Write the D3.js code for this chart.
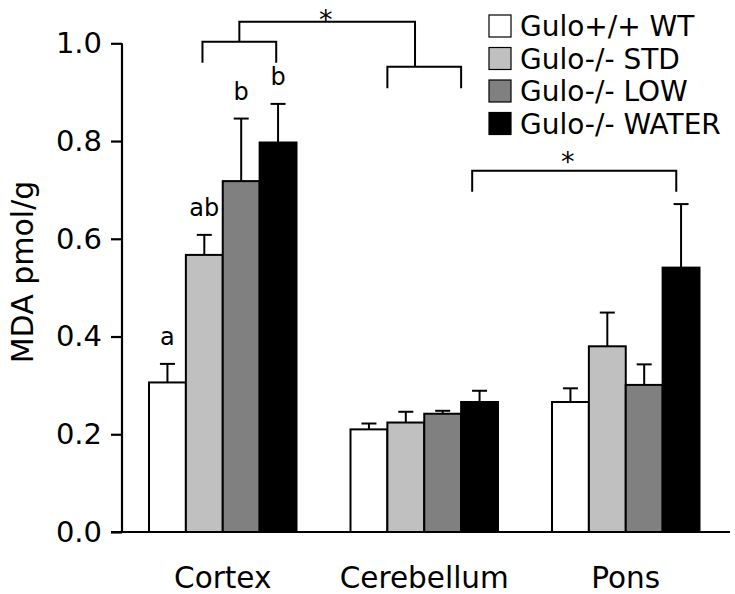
<!DOCTYPE html>
<html>
<head>
<meta charset="utf-8">
<script src="https://cdn.jsdelivr.net/npm/d3@7"></script>
<style>
  html, body { margin: 0; padding: 0; background: #fff; }
  svg { display: block; font-family: "DejaVu Sans", Verdana, sans-serif; }
</style>
</head>
<body>
<svg id="chart" width="735" height="594"></svg>
<script>
// ---- data ----
const categories = ["Cortex", "Cerebellum", "Pons"];
const seriesNames = ["Gulo+/+ WT", "Gulo-/- STD", "Gulo-/- LOW", "Gulo-/- WATER"];
const wtValues    = [0.306, 0.210, 0.266];
const stdValues   = [0.567, 0.224, 0.380];
const lowValues   = [0.718, 0.242, 0.301];
const waterValues = [0.797, 0.266, 0.541];
const wtErr    = [0.038, 0.012, 0.028];
const stdErr   = [0.041, 0.022, 0.069];
const lowErr   = [0.128, 0.006, 0.042];
const waterErr = [0.079, 0.023, 0.130];
const seriesColors = ["#ffffff", "#c0c0c0", "#808080", "#000000"];
const yTicks = [0.0, 0.2, 0.4, 0.6, 0.8, 1.0];
const cortexLetters = ["a", "ab", "b", "b"];
const yTitle = "MDA pmol/g";

// brackets: [category, position in bar units from group start, value]
const bracketCortex = [["Cortex", 1.45, 0.960], ["Cortex", 1.45, 1.003], ["Cortex", 3.45, 1.003], ["Cortex", 3.45, 0.960]];
const bracketTop = [["Cortex", 2.45, 1.003], ["Cortex", 2.45, 1.044], ["Cerebellum", 1.75, 1.044], ["Cerebellum", 1.75, 0.952]];
const bracketCerebellum = [["Cerebellum", 1.0, 0.908], ["Cerebellum", 1.0, 0.952], ["Cerebellum", 3.0, 0.952], ["Cerebellum", 3.0, 0.908]];
const bracketPons = [["Cerebellum", 3.3, 0.696], ["Cerebellum", 3.3, 0.739], ["Pons", 3.37, 0.739], ["Pons", 3.37, 0.696]];
const asterisks = [["Cortex", 4.79, 1.030], ["Pons", 0.43, 0.739]];

// ---- build ----
const values = [wtValues, stdValues, lowValues, waterValues];
const errs = [wtErr, stdErr, lowErr, waterErr];
const data = categories.map((c, ci) => ({
  cat: c,
  bars: seriesNames.map((s, si) => ({ cat: c, series: s, si, v: values[si][ci], e: errs[si][ci] }))
}));

const svg = d3.select("#chart");
const x0 = d3.scaleBand().domain(categories).range([122, 726.5]).paddingInner(0.268).paddingOuter(0.134);
const x1 = d3.scaleBand().domain(seriesNames).range([0, x0.bandwidth()]);
const y = d3.scaleLinear().domain([0, 1]).range([532, 43.3]);
const bw = x1.bandwidth();
const px = (cat, pos) => x0(cat) + pos * bw;

// bars
const groups = svg.selectAll("g.grp").data(data).join("g")
  .attr("class", "grp")
  .attr("transform", d => `translate(${x0(d.cat)},0)`);

groups.selectAll("line.err").data(d => d.bars).join("line")
  .attr("x1", d => x1(d.series) + bw / 2).attr("x2", d => x1(d.series) + bw / 2)
  .attr("y1", d => y(d.v)).attr("y2", d => y(d.v + d.e))
  .attr("stroke", "#000").attr("stroke-width", 2);
groups.selectAll("line.cap").data(d => d.bars).join("line")
  .attr("x1", d => x1(d.series) + bw / 2 - 7.5).attr("x2", d => x1(d.series) + bw / 2 + 7.5)
  .attr("y1", d => y(d.v + d.e)).attr("y2", d => y(d.v + d.e))
  .attr("stroke", "#000").attr("stroke-width", 2);

groups.selectAll("rect").data(d => d.bars).join("rect")
  .attr("x", d => x1(d.series))
  .attr("y", d => y(d.v))
  .attr("width", bw)
  .attr("height", d => y(0) - y(d.v))
  .attr("fill", d => seriesColors[d.si])
  .attr("stroke", "#000").attr("stroke-width", 2);

// letters above cortex bars
const cortexBars = data[0].bars;
svg.selectAll("text.letter").data(cortexBars).join("text")
  .attr("class", "letter")
  .attr("x", d => x0(d.cat) + x1(d.series) + bw / 2)
  .attr("y", d => y(d.v + d.e) - 19)
  .attr("text-anchor", "middle")
  .attr("font-size", 24)
  .text((d, i) => cortexLetters[i]);

// y axis
const yAxis = d3.axisLeft(y).tickValues(yTicks).tickFormat(d3.format(".1f")).tickSize(11).tickPadding(9);
const ya = svg.append("g").attr("transform", "translate(122,0)").call(yAxis);
ya.select(".domain").attr("stroke", "#000").attr("stroke-width", 2.2).attr("d", `M0,${y(1)}V${y(0)}`);
ya.selectAll(".tick line").attr("stroke", "#000").attr("stroke-width", 2.2);
ya.selectAll(".tick text").attr("font-size", 29).attr("font-family", "DejaVu Sans, Verdana, sans-serif").attr("fill", "#000");

// x axis line
svg.append("line").attr("x1", 111).attr("x2", 730).attr("y1", y(0)).attr("y2", y(0))
  .attr("stroke", "#000").attr("stroke-width", 2.2);

// category labels
svg.selectAll("text.cat").data(categories).join("text")
  .attr("class", "cat")
  .attr("x", d => x0(d) + x0.bandwidth() / 2)
  .attr("y", 588)
  .attr("text-anchor", "middle")
  .attr("font-size", 29.5)
  .text(d => d);

// y title
svg.append("text")
  .attr("transform", "translate(33,272) rotate(-90)")
  .attr("text-anchor", "middle")
  .attr("font-size", 30)
  .text(yTitle);

// brackets
const line = d3.line().x(p => px(p[0], p[1])).y(p => y(p[2]));
[bracketCortex, bracketTop, bracketCerebellum, bracketPons].forEach(b => {
  svg.append("path").attr("d", line(b)).attr("fill", "none").attr("stroke", "#000").attr("stroke-width", 2);
});
svg.selectAll("text.ast").data(asterisks).join("text")
  .attr("class", "ast")
  .attr("x", d => px(d[0], d[1]))
  .attr("y", d => y(d[2]))
  .attr("text-anchor", "middle")
  .attr("font-size", 27)
  .text("*");

// legend
const leg = svg.append("g").attr("transform", "translate(489,15)");
const items = leg.selectAll("g").data(seriesNames).join("g")
  .attr("transform", (d, i) => `translate(0,${i * 32.5})`);
items.append("rect").attr("width", 22).attr("height", 22)
  .attr("fill", (d, i) => seriesColors[i]).attr("stroke", "#000").attr("stroke-width", 1.2);
items.append("text").attr("x", 31).attr("y", 21).attr("font-size", 28).text(d => d);
</script>
</body>
</html>
